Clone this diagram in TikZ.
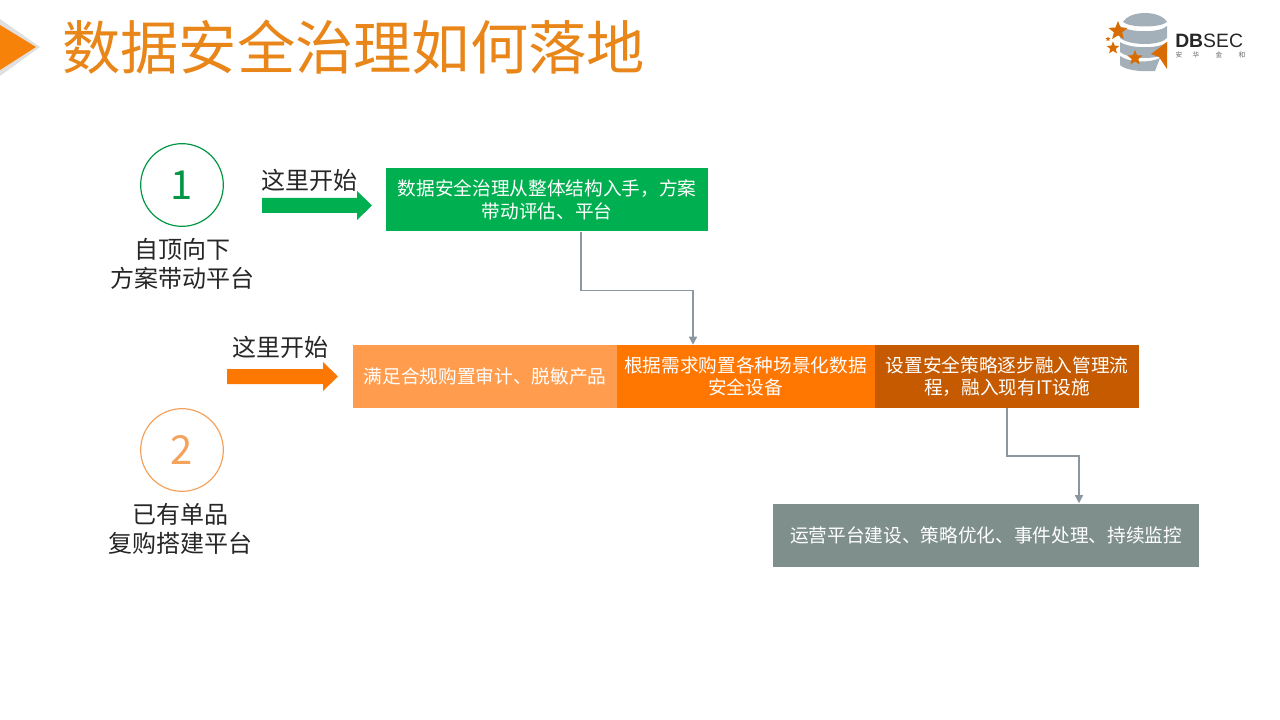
\documentclass[tikz,border=0pt]{standalone}
\usepackage{fontspec}
\setmainfont{Noto Sans CJK SC}
\newfontfamily\logofont{Liberation Sans}
\usetikzlibrary{arrows.meta,shapes.arrows,shapes.geometric,calc}
\definecolor{titleor}{HTML}{E8861A}
\definecolor{boxgreen}{HTML}{00B050}
\definecolor{or1}{HTML}{FF9C4E}
\definecolor{or2}{HTML}{FF7600}
\definecolor{or3}{HTML}{C55A00}
\definecolor{greybox}{HTML}{7F8F8C}
\definecolor{linegrey}{HTML}{8A979E}
\definecolor{logogrey}{HTML}{A3B0BA}
\definecolor{circor}{HTML}{F4A25C}
\tikzset{
 boxnode/.style={draw=none,inner sep=0pt,minimum height=47.25pt,align=center,text=white,font=\fontsize{14}{17}\selectfont},
 conn/.style={draw=linegrey,line width=1pt,-{Triangle[length=6pt,width=6pt]},rounded corners=0pt},
 numcirc/.style={circle,minimum size=62pt,inner sep=0pt,line width=0.9pt,font=\fontsize{30}{34}\selectfont},
 lbl/.style={align=center,inner sep=0pt,font=\fontsize{18}{21.6}\selectfont,text=black!85},
 startlbl/.style={inner sep=0pt,font=\fontsize{18}{21}\selectfont,text=black!85},
 fatarrow/.style={draw=none},
 starshape/.style={star,star points=5,star point ratio=2.3,fill=orange!85!black,draw=none,inner sep=0pt}
}
\begin{document}
\begin{tikzpicture}[x=0.75pt,y=-0.75pt]
\useasboundingbox (0,0) rectangle (1280,720);
% title marker
\fill[black!12] (0,19) -- (40,47) -- (0,76) -- cycle;
\fill[titleor!40!orange] (0,25) -- (36,47) -- (0,70) -- cycle;
\node[anchor=west,inner sep=0pt,text=titleor,font=\fontsize{43.7}{50}\selectfont] (title) at (62,47) {数据安全治理如何落地};
% logo
\fill[logogrey] (1123,22) .. controls (1130,10) and (1160,10) .. (1167,22) .. controls (1160,28) and (1130,28) .. (1123,22) -- cycle;
\fill[logogrey] (1120,26) .. controls (1130,33) and (1160,33) .. (1167,26) -- (1167,38) .. controls (1160,46) and (1130,46) .. (1120,38) -- cycle;
\fill[logogrey] (1120,42) .. controls (1130,49) and (1160,49) .. (1167,42) -- (1167,52) .. controls (1160,60) and (1130,60) .. (1120,52) -- cycle;
\fill[logogrey] (1120,56) .. controls (1130,63) and (1150,63) .. (1160,58) -- (1155,71) .. controls (1140,72) and (1125,70) .. (1120,65) -- cycle;
\fill[orange!85!black] (1167,42) -- (1167,69) -- (1159,57) -- (1151,54) -- cycle;
\node[starshape,minimum size=15pt] (s1) at (1118,31) {};
\node[starshape,minimum size=10pt] (s2) at (1113,48) {};
\node[starshape,minimum size=4pt] (s3) at (1108,39) {};
\node[starshape,minimum size=12pt] (s4) at (1135,58) {};
\node[anchor=west,inner sep=0pt,font=\logofont\bfseries\fontsize{14.5}{16}\selectfont,text=black!85] (dbsec) at (1175,40.5) {DB\textmd{SEC}};
\foreach \c/\xx in {安/1179,华/1196,金/1219,和/1242}{\node[inner sep=0pt,text=black!60,font=\fontsize{5}{6}\selectfont] at (\xx,55) {\c};}
% row 1
\node[numcirc,draw=boxgreen!85!black,text=boxgreen!85!black] (c1) at (182,185) {1};
\node[lbl] (l1) at (182,264) {自顶向下\\方案带动平台};
\node[startlbl] (st1) at (309.5,180) {这里开始};
\fill[boxgreen] (262,198) -- (357,198) -- (357,191) -- (372,205.5) -- (357,220) -- (357,213) -- (262,213) -- cycle;
\node[boxnode,fill=boxgreen,minimum width=241pt] (b1) at (547,200) {数据安全治理从整体结构入手，方案\\带动评估、平台};
% row 2
\node[startlbl] (st2) at (280,347) {这里开始};
\fill[or2!90!titleor] (227,369) -- (323,369) -- (323,362) -- (338,376.5) -- (323,391) -- (323,384) -- (227,384) -- cycle;
\node[boxnode,fill=or1,minimum width=198pt] (b2) at (485,376.5) {满足合规购置审计、脱敏产品};
\node[boxnode,fill=or2,minimum width=193.5pt] (b3) at (745.5,376.5) {根据需求购置各种场景化数据\\安全设备};
\node[boxnode,fill=or3,minimum width=198pt] (b4) at (1007,376.5) {设置安全策略逐步融入管理流\\程，融入现有IT设施};
\node[numcirc,draw=circor,text=circor] (c2) at (182,450) {2};
\node[lbl] (l2) at (180,529) {已有单品\\复购搭建平台};
% row 3
\node[boxnode,fill=greybox,minimum width=320pt] (b5) at (986,535) {运营平台建设、策略优化、事件处理、持续监控};
% connectors
\draw[conn] (b1.south -| 581,0) -- (581,290.5) -- (693,290.5) -- (b3.north -| 693,0);
\draw[conn] (b4.south -| 1007,0) -- (1007,456) -- (1079,456) -- (b5.north -| 1079,0);
\end{tikzpicture}
\end{document}
